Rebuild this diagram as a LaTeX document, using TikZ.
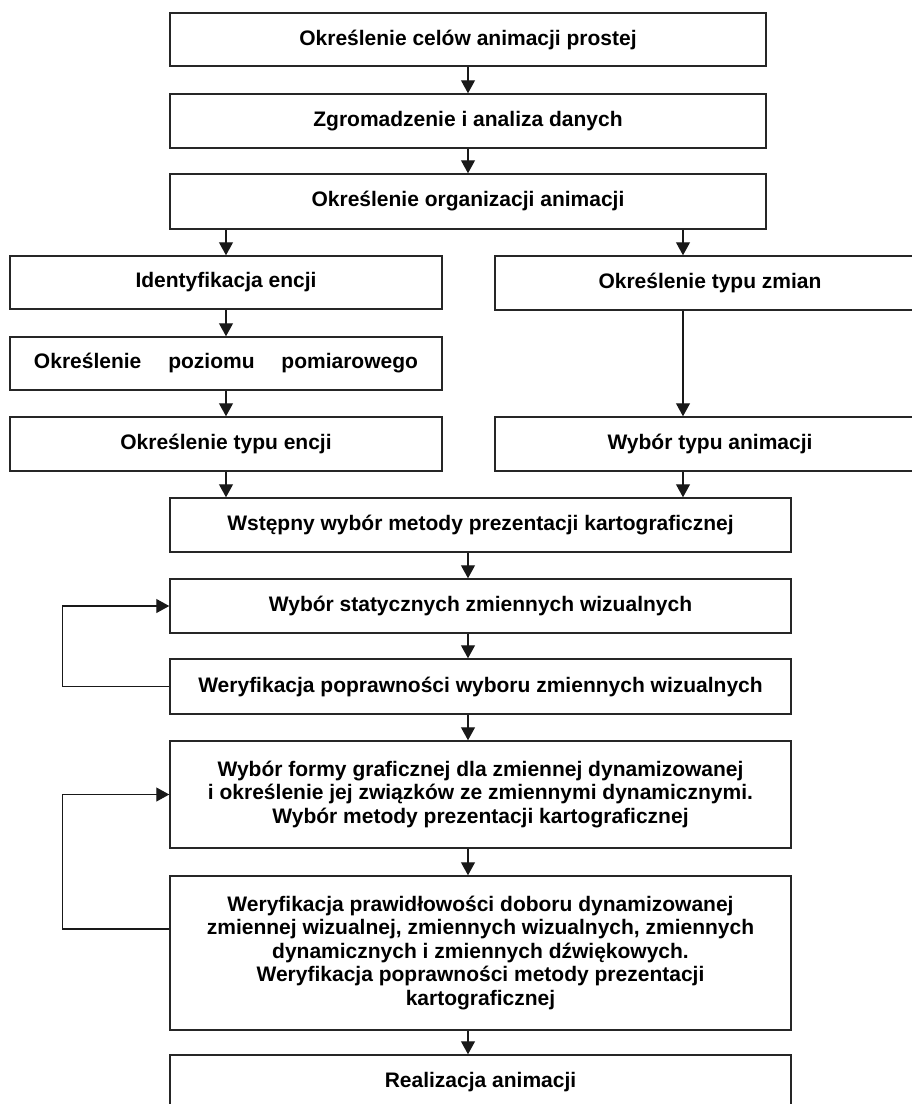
\documentclass[tikz,border=0pt]{standalone}
\usepackage{fontspec}
\setmainfont{Liberation Sans}
\usetikzlibrary{arrows.meta}

\begin{document}
\begin{tikzpicture}[x = 1pt, y = -1pt,
    box/.style = {draw = black!85, line width = 1.5pt, minimum height = 53pt, inner sep = 0pt,
      align = center, font = \fontsize{21}{23.5}\selectfont\bfseries},
    wide/.style = {box, minimum width = 596pt},
    half/.style = {box, minimum width = 432pt},
    low/.style = {box, minimum width = 621pt},
    arr/.style = {draw = black!90, line width = 1.2pt, -{Triangle[length = 13pt, width = 14pt]}}]
      \useasboundingbox (0, 0) rectangle (912, 1104);
      \node[wide] (cele) at (468, 39.5) {Określenie celów animacji prostej};
      \node[wide, minimum height = 54pt] (dane) at (468, 121) {Zgromadzenie i analiza danych};
      \node[wide, minimum height = 55pt] (organizacja) at (468, 201.5) {Określenie organizacji animacji};
      \node[half] (encje) at (226, 282.5) {\raisebox{4pt}{Identyfikacja encji}};
      \node[half] (poziom) at (226, 363.5) {\makebox[384pt][s]{Określenie poziomu pomiarowego}};
      \node[half, minimum height = 54pt] (typencji) at (226, 444) {Określenie typu encji};
      \node[half, minimum width = 430pt, minimum height = 54pt] (zmiany) at (710, 283) {\raisebox{4pt}{Określenie typu zmian}};
      \node[half, minimum width = 430pt, minimum height = 54pt] (typanim) at (710, 444) {Wybór typu animacji};
      \node[low, minimum height = 54pt] (wstepny) at (480.5, 525) {Wstępny wybór metody prezentacji kartograficznej};
      \node[low, minimum height = 54pt] (statyczne) at (480.5, 606) {Wybór statycznych zmiennych wizualnych};
      \node[low, minimum height = 55pt] (weryf) at (480.5, 686.5) {Weryfikacja poprawności wyboru zmiennych wizualnych};
      \node[low, minimum height = 107pt] (forma) at (480.5, 794.5) {Wybór formy graficznej dla zmiennej dynamizowanej\\
        i określenie jej związków ze zmiennymi dynamicznymi.\\ Wybór metody prezentacji kartograficznej};
      \node[low, minimum height = 154pt] (weryfdyn) at (480.5, 953) {Weryfikacja prawidłowości doboru dynamizowanej\\
        zmiennej wizualnej, zmiennych wizualnych, zmiennych\\ dynamicznych i zmiennych dźwiękowych.\\
        Weryfikacja poprawności metody prezentacji\\ kartograficznej};
      \node[low, minimum height = 55pt] (realizacja) at (480.5, 1082.5) {\raisebox{3pt}{Realizacja animacji}};
      \draw[arr] (cele) -- (dane);
      \draw[arr] (dane) -- (organizacja);
      \draw[arr] (organizacja.south -| encje.north) -- (encje.north);
      \draw[arr] ([xshift = 215pt]organizacja.south) -- ([xshift = 215pt]organizacja.south |- zmiany.north);
      \draw[arr] (encje) -- (poziom);
      \draw[arr] (poziom) -- (typencji);
      \draw[arr] ([xshift = -27pt]zmiany.south) -- ([xshift = -27pt]typanim.north);
      \draw[arr] (typencji.south) -- (typencji.south |- wstepny.north);
      \draw[arr] ([xshift = -27pt]typanim.south) -- ([xshift = -27pt]typanim.south |- wstepny.north);
      \draw[arr] (cele |- wstepny.south) -- (cele |- statyczne.north);
      \draw[arr] (cele |- statyczne.south) -- (cele |- weryf.north);
      \draw[arr] (cele |- weryf.south) -- (cele |- forma.north);
      \draw[arr] (cele |- forma.south) -- (cele |- weryfdyn.north);
      \draw[arr] (cele |- weryfdyn.south) -- (cele |- realizacja.north);
      \draw[arr] (weryf.west) -- ++(-107, 0) |- (statyczne.west);
      \draw[arr] ([yshift = 24pt]weryfdyn.west) -- ++(-107, 0) |- (forma.west);
    \end{tikzpicture}
\end{document}
